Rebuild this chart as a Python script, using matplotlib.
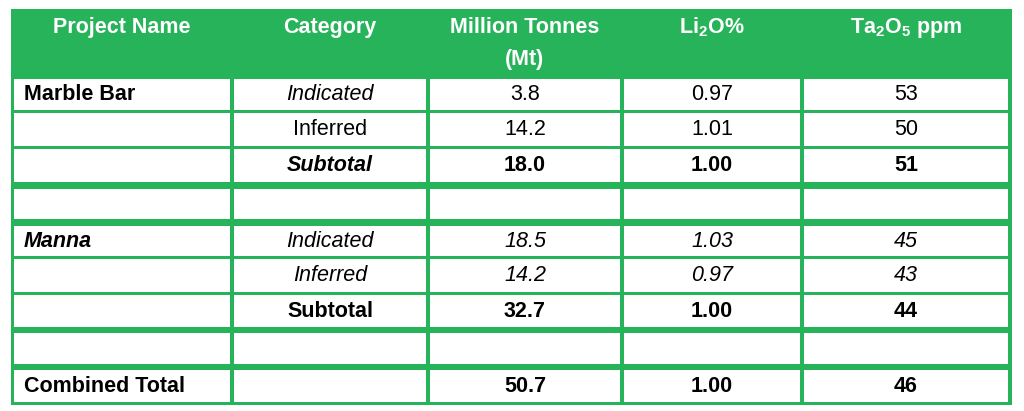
import matplotlib
matplotlib.use("Agg")
import matplotlib.pyplot as plt
from matplotlib.patches import Rectangle

# ---- table content ----
headers = ["Project Name", "Category", "Million Tonnes\n(Mt)",
           r"Li$\mathregular{_2}$O%", r"Ta$\mathregular{_2}$O$\mathregular{_5}$ ppm"]
projects = ["Marble Bar", "", "", "", "Manna", "", "", "", "Combined Total"]
categories = ["Indicated", "Inferred", "Subtotal", "", "Indicated", "Inferred", "Subtotal", "", ""]
tonnes = ["3.8", "14.2", "18.0", "", "18.5", "14.2", "32.7", "", "50.7"]
li2o = ["0.97", "1.01", "1.00", "", "1.03", "0.97", "1.00", "", "1.00"]
ta2o5 = ["53", "50", "51", "", "45", "43", "44", "", "46"]

# per-row text styles (weight, style) for name / category / value columns
name_style = [("bold", "normal"), None, None, None, ("bold", "italic"), None, None, None, ("bold", "normal")]
cat_style = [("normal", "italic"), ("normal", "normal"), ("bold", "italic"), None,
             ("normal", "italic"), ("normal", "italic"), ("bold", "normal"), None, None]
val_style = [("normal", "normal"), ("normal", "normal"), ("bold", "normal"), None,
             ("normal", "italic"), ("normal", "italic"), ("bold", "normal"), None, ("bold", "normal")]

# ---- layout (pixels) ----
GREEN = "#27b35a"
W, H = 1024, 411
col_x = [(14, 230), (234, 426), (430, 620), (624, 800), (804, 1008)]
row_y = [(79, 110), (113, 146), (149, 182), (189, 219), (226, 256),
         (259, 292), (295, 327), (333, 364), (370, 402)]
FS = 15.5

plt.rcParams["font.family"] = ["Liberation Sans", "DejaVu Sans"]
fig = plt.figure(figsize=(W / 100, H / 100), dpi=100)
ax = fig.add_axes([0, 0, 1, 1])
ax.set_xlim(0, W)
ax.set_ylim(H, 0)
ax.axis("off")

# green frame + header, white body cells on top
ax.add_patch(Rectangle((11, 9), 1001, 396, facecolor=GREEN, edgecolor="none"))
for (y0, y1) in row_y:
    for (x0, x1) in col_x:
        ax.add_patch(Rectangle((x0, y0), x1 - x0, y1 - y0, facecolor="white", edgecolor="none"))

# header text, one line at a time
for (x0, x1), h in zip(col_x, headers):
    for k, line in enumerate(h.split("\n")):
        ax.text((x0 + x1) / 2, 33 + 32 * k, line, ha="center", va="baseline", color="white",
                fontsize=FS, fontweight="bold")

# body text
cols = [projects, categories, tonnes, li2o, ta2o5]
for i, (y0, y1) in enumerate(row_y):
    base = (y0 + y1) / 2 + 5.5
    for j, col in enumerate(cols):
        txt = col[i]
        if not txt:
            continue
        st = name_style[i] if j == 0 else cat_style[i] if j == 1 else val_style[i]
        x0, x1 = col_x[j]
        if j == 0:
            ax.text(x0 + 10, base, txt, ha="left", va="baseline", fontsize=FS,
                    fontweight=st[0], fontstyle=st[1], color="black")
        else:
            ax.text((x0 + x1) / 2, base, txt, ha="center", va="baseline", fontsize=FS,
                    fontweight=st[0], fontstyle=st[1], color="black")

fig.savefig("out.png", dpi=100, facecolor="white")
